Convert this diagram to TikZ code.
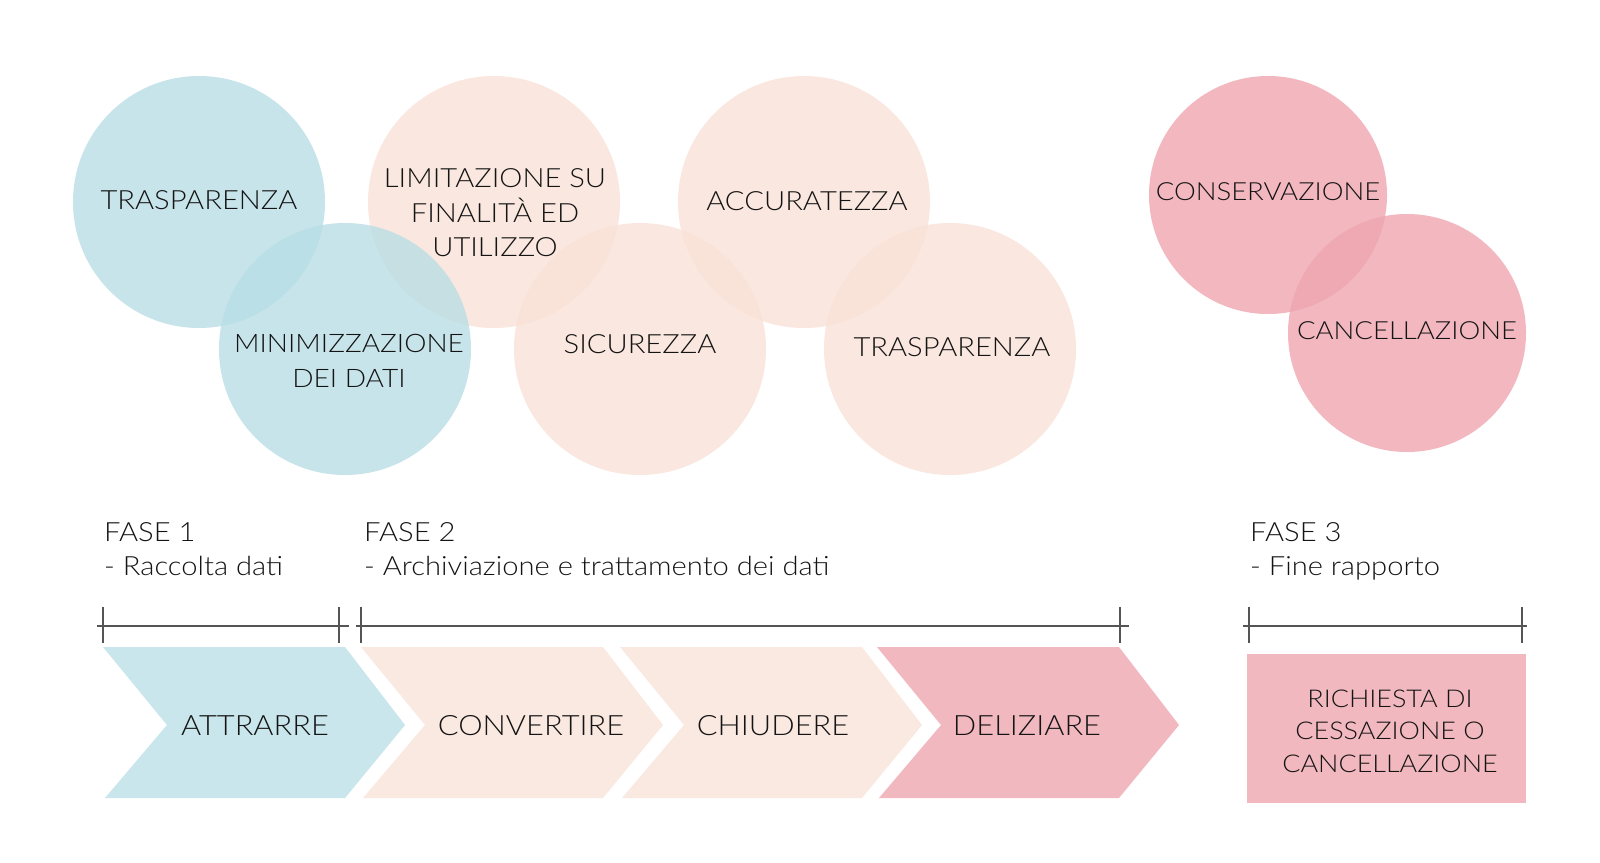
\documentclass[tikz,border=0pt]{standalone}
\usepackage{fontspec}
\setmainfont{Lato Light}[FakeStretch=1.1]
\definecolor{cblue}{RGB}{185,222,229}
\definecolor{cpeach}{RGB}{249,226,216}
\definecolor{cpink}{RGB}{239,166,176}
\definecolor{sblue}{RGB}{200,230,235}
\definecolor{speach}{RGB}{250,233,225}
\definecolor{spink}{RGB}{242,184,191}
\definecolor{txt}{RGB}{20,20,20}
\definecolor{lgray}{RGB}{85,85,85}
\begin{document}
\begin{tikzpicture}[x=1pt,y=-1pt,
  circ/.style={circle, minimum size=#1, inner sep=0pt, fill opacity=0.8, draw=none},
  ctext/.style={align=center, text=txt, font=\fontsize{26.5}{34.5}\selectfont, inner sep=0pt},
  ptext/.style={anchor=base west, text=txt, font=\fontsize{26.5}{34}\selectfont, inner sep=0pt},
  chtext/.style={text=txt, font=\fontsize{28}{34}\selectfont, inner sep=0pt},
  tline/.style={draw=lgray, line width=1.5pt},
  tick/.style={draw=lgray, line width=1.5pt}]
\useasboundingbox (0,0) rectangle (1600,862);
\fill[white] (0,0) rectangle (1600,862);

% circles
\node[circ=252pt, fill=cblue] (c1) at (199,202) {};
\node[circ=252pt, fill=cpeach] (c3) at (494,202) {};
\node[circ=252pt, fill=cpeach] (c5) at (804,202) {};
\node[circ=252pt, fill=cblue] (c2) at (345,349) {};
\node[circ=252pt, fill=cpeach] (c4) at (640,349) {};
\node[circ=252pt, fill=cpeach] (c6) at (950,349) {};
\node[circ=238pt, fill=cpink] (c7) at (1268,195) {};
\node[circ=238pt, fill=cpink] (c8) at (1407,333) {};

\node[ctext] (t1) at (199,200) {TRASPARENZA};
\node[ctext, font=\fontsize{25.5}{34.5}\selectfont] (t2) at (349,361) {MINIMIZZAZIONE\\DEI DATI};
\node[ctext] (t3) at (495,213) {LIMITAZIONE SU\\FINALITÀ ED\\UTILIZZO};
\node[ctext] (t4) at (640,344) {SICUREZZA};
\node[ctext] (t5) at (807,201) {ACCURATEZZA};
\node[ctext] (t6) at (952,347) {TRASPARENZA};
\node[ctext, font=\fontsize{25}{32}\selectfont] (t7) at (1268,192) {CONSERVAZIONE};
\node[ctext, font=\fontsize{25}{32}\selectfont] (t8) at (1407,331) {CANCELLAZIONE};

% phase labels
\node[ptext] (f1) at (104,541) {FASE 1};
\node[ptext] (f1s) at (104,575) {- Raccolta dati};
\node[ptext] (f2) at (364,541) {FASE 2};
\node[ptext] (f2s) at (364,575) {- Archiviazione e trattamento dei dati};
\node[ptext] (f3) at (1250,541) {FASE 3};
\node[ptext] (f3s) at (1250,575) {- Fine rapporto};

% timelines
\coordinate (l1a) at (97,626); \coordinate (l1b) at (349,626);
\coordinate (l2a) at (356,626); \coordinate (l2b) at (1129,626);
\coordinate (l3a) at (1243,626); \coordinate (l3b) at (1527,626);
\draw[tline] (l1a) -- (l1b);
\draw[tline] (l2a) -- (l2b);
\draw[tline] (l3a) -- (l3b);
\foreach \tx in {103,339,361,1120,1249,1522}
  \draw[tick] (\tx,607) -- (\tx,643);

% chevrons
\fill[sblue] (103,647) -- (345,647) -- (405,725) -- (345,798) -- (105,798) -- (167,725) -- cycle;
\fill[speach] (361,647) -- (603,647) -- (663,725) -- (603,798) -- (363,798) -- (425,725) -- cycle;
\fill[speach] (620,647) -- (862,647) -- (922,725) -- (862,798) -- (622,798) -- (684,725) -- cycle;
\fill[spink] (877,647) -- (1119,647) -- (1179,725) -- (1119,798) -- (879,798) -- (941,725) -- cycle;
\node[chtext] (a1) at (255,726) {ATTRARRE};
\node[chtext] (a2) at (531,726) {CONVERTIRE};
\node[chtext] (a3) at (773,726) {CHIUDERE};
\node[chtext] (a4) at (1027,726) {DELIZIARE};

% box
\fill[spink] (1247,654) rectangle (1526,803);
\node[ctext, font=\fontsize{24.5}{32.5}\selectfont] (r1) at (1390,731) {RICHIESTA DI\\CESSAZIONE O\\CANCELLAZIONE};
\end{tikzpicture}
\end{document}
